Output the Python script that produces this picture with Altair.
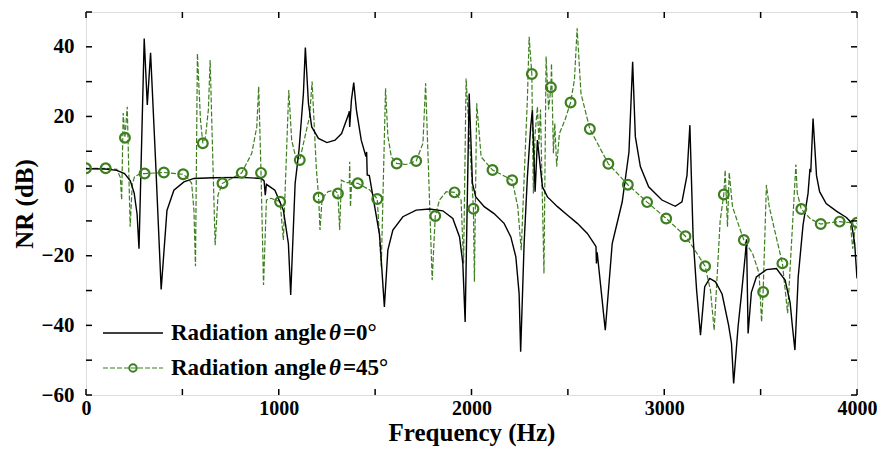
import altair as alt
import pandas as pd

# ---- data ----
black_f = [0, 100, 160, 200, 230, 250, 265, 275, 302, 318, 335, 362, 390, 420, 456, 508, 560, 660, 800,
           910, 924, 930, 936, 980, 1024, 1050, 1062, 1085, 1105, 1128, 1138, 1154, 1171, 1206, 1250, 1292,
           1326, 1364, 1366, 1368, 1377, 1389, 1403, 1428, 1452, 1456, 1459, 1470, 1489, 1523, 1548, 1566,
           1592, 1644, 1713, 1782, 1851, 1903, 1938, 1955, 1967, 1988, 2005, 2022, 2066, 2117, 2169, 2204,
           2230, 2247, 2255, 2273, 2290, 2307, 2316, 2330, 2342, 2368, 2394, 2446, 2497, 2549, 2601, 2636,
           2646, 2648, 2652, 2694, 2730, 2782, 2817, 2836, 2850, 2876, 2919, 2988, 3057, 3092, 3118, 3133,
           3150, 3168, 3188, 3210, 3236, 3266, 3300, 3334, 3349, 3360, 3383, 3401, 3420, 3427, 3435, 3452,
           3478, 3530, 3582, 3627, 3653, 3665, 3678, 3695, 3720, 3746, 3756, 3760, 3772, 3790, 3806, 3840,
           3893, 3945, 3971, 3988, 4000]
black_nr = [5.0, 4.9, 4.5, 3.6, 1.5, -2.0, -8.0, -18.0, 42.4, 23.3, 38.3, 6.0, -29.7, -7.0, -1.2, 1.2, 2.2, 2.4, 2.5,
            2.2, 1.5, -2.6, 0.5, -1.2, -6.9, -16.5, -31.3, 0.8, 10.3, 26.6, 39.8, 23.8, 17.0, 13.7, 12.5, 13.2,
            15.1, 20.9, 21.5, 17.0, 24.7, 29.7, 21.8, 13.2, 8.5, 9.8, 3.2, 3.0, -3.1, -14.0, -34.7, -18.4,
            -12.6, -8.8, -6.9, -6.6, -7.1, -9.3, -14.6, -22.2, -39.0, 26.6, 0.8, -3.1, -5.9, -7.9, -10.7, -14.6,
            -20.3, -30.8, -47.6, -16.5, 2.7, 17.0, 21.8, -1.6, 13.2, -0.2, -3.1, -5.9, -8.3, -10.7, -13.6, -16.5,
            -17.4, -22.2, -19.0, -41.4, -16.5, -4.5, 9.8, 35.7, 14.2, 5.6, -0.2, -4.0, -5.8, -4.5, 3.1, 17.5,
            -15.0, -30.0, -42.8, -28.9, -26.5, -27.5, -31.0, -40.0, -45.2, -56.7, -40.4, -30.8, -20.0, -15.3, -42.3, -30.5,
            -26.1, -24.0, -23.7, -27.0, -33.5, -40.4, -47.1, -26.1, -11.2, -2.1, 5.0, 4.0, 19.4, 3.0, -1.6, -5.0,
            -7.2, -9.0, -10.5, -16.5, -26.5]

green_f = [0, 102, 160, 178, 185, 193, 202, 214, 229, 240, 252, 280, 304, 404, 504, 530, 548, 560, 568, 578,
           594, 606, 620, 635, 644, 670, 685, 708, 756, 808, 860, 886, 896, 908, 921, 936, 960, 1007, 1024,
           1052, 1067, 1085, 1109, 1136, 1160, 1173, 1195, 1207, 1214, 1225, 1256, 1290, 1307, 1316, 1325,
           1350, 1366, 1368, 1372, 1378, 1410, 1472, 1511, 1532, 1554, 1566, 1584, 1612, 1660, 1713, 1748,
           1762, 1796, 1812, 1834, 1869, 1912, 1946, 1959, 1972, 2010, 2015, 2027, 2050, 2109, 2160, 2211,
           2240, 2258, 2275, 2290, 2299, 2313, 2321, 2330, 2342, 2350, 2358, 2376, 2387, 2400, 2412, 2415,
           2425, 2432, 2442, 2456, 2485, 2514, 2534, 2548, 2568, 2614, 2710, 2811, 2911, 3010, 3110, 3160,
           3212, 3240, 3259, 3290, 3309, 3316, 3328, 3337, 3354, 3389, 3413, 3458, 3492, 3505, 3513, 3530,
           3545, 3570, 3613, 3640, 3683, 3690, 3711, 3760, 3812, 3860, 3910, 3965, 3978, 3990, 4000]
green_nr = [5.1, 5.1, 4.8, 2.5, -4.0, 21.0, 13.9, 22.8, -11.7, 0.5, 2.7, 3.5, 3.6, 3.9, 3.4, 2.2, 0.8, -6.9, -23.0, 38.1,
            19.0, 12.3, 14.2, 22.0, 36.2, -17.0, -2.5, 0.8, 2.2, 3.8, 9.4, 17.0, 28.6, 3.8, -28.4, -4.0, -3.5, -4.5, -15.5,
            27.6, 13.2, 9.0, 7.5, 14.2, 20.0, 30.0, 5.0, -3.3, -12.6, -3.5, -1.6, -1.2, -2.1, -12.6, 1.7,
            1.0, 1.0, 7.0, -6.0, 1.0, 0.8, -1.1, -3.7, -23.2, 28.1, 14.4, 8.4, 6.5, 6.2, 7.2, 12.3,
            29.5, -27.0, -8.6, -4.0, -1.6, -1.8, -4.0, -22.2, 30.9, -6.5, -27.5, 23.8, 8.4, 4.6, 3.2, 1.7,
            -5.9, -18.4, 5.0, 25.0, 42.9, 32.2, -2.1, 15.0, 22.8, 12.0, 22.0, -25.1, 37.2, 22.0, 28.4, 35.2,
            9.4, 18.0, 5.6, 15.1, 19.0, 24.0, 30.5, 45.3, 26.6, 16.4, 6.4, 0.4, -4.6, -9.3, -14.4, -18.5,
            -23.0, -30.0, -41.4, -10.0, -2.4, 4.6, -11.7, 3.9, -5.9, -11.7, -15.5, -19.3, -25.1, -39.0, -30.4, 0.3,
            -6.0, -12.0, -22.2, -36.5, 6.2, -2.0, -6.6, -9.5, -10.9, -10.5, -10.2, -10.5, -18.0, -12.0, -10.5]

marker_f = [0, 102, 202, 304, 404, 504, 606, 708, 808, 908, 1007, 1109, 1207, 1307, 1410, 1511, 1612, 1713,
            1812, 1912, 2010, 2109, 2211, 2313, 2412, 2514, 2614, 2710, 2811, 2911, 3010, 3110, 3212, 3309,
            3413, 3513, 3613, 3711, 3812, 3910, 4000]
marker_nr = [5.1, 5.1, 13.9, 3.6, 3.9, 3.4, 12.3, 0.8, 3.8, 3.8, -4.5, 7.5, -3.3, -2.1, 0.8, -3.7, 6.5, 7.2,
             -8.6, -1.8, -6.5, 4.6, 1.7, 32.2, 28.4, 24.0, 16.4, 6.4, 0.4, -4.6, -9.3, -14.4, -23.0, -2.4,
             -15.5, -30.4, -22.2, -6.6, -10.9, -10.2, -10.5]

x_ticks = [0, 500, 1000, 1500, 2000, 2500, 3000, 3500, 4000]
x_labels = [0, 1000, 2000, 3000, 4000]
y_ticks = [-60, -50, -40, -30, -20, -10, 0, 10, 20, 30, 40, 50]
y_labels = [-60, -40, -20, 0, 20, 40]

legend_text = ["Radiation angle", "θ", "=0°", "=45°"]

GREEN = "#3d7f1f"
FONT = "Liberation Serif"
W, H = 771, 383

black_df = pd.DataFrame({"f": black_f, "nr": black_nr})
green_df = pd.DataFrame({"f": green_f, "nr": green_nr})
marker_df = pd.DataFrame({"f": marker_f, "nr": marker_nr})
xt_df = pd.DataFrame({"f": x_ticks})
yt_df = pd.DataFrame({"nr": y_ticks})

xscale = alt.Scale(domain=[0, 4000], nice=False, zero=False)
yscale = alt.Scale(domain=[-60, 50], nice=False, zero=False)

xaxis = alt.Axis(values=x_labels, format="d", title="Frequency (Hz)", ticks=False, domain=False, grid=False,
                 labelFont=FONT, labelFontSize=20, labelFontWeight="bold", labelPadding=3,
                 titleFont=FONT, titleFontSize=25, titleFontWeight="bold", titlePadding=2,
                 labelColor="black", titleColor="black", labelFlush=False)
yaxis = alt.Axis(values=y_labels, format="d", title="NR (dB)", ticks=False, domain=False, grid=False,
                 labelFont=FONT, labelFontSize=21, labelFontWeight="bold", labelPadding=12,
                 titleFont=FONT, titleFontSize=25, titleFontWeight="bold", titlePadding=4,
                 labelColor="black", titleColor="black", labelFlush=False)

base_x = alt.X("f:Q", scale=xscale, axis=xaxis)
base_y = alt.Y("nr:Q", scale=yscale, axis=yaxis)

green_line = alt.Chart(green_df).mark_line(color=GREEN, strokeWidth=1.2, strokeDash=[5, 2], clip=True).encode(
    x=base_x, y=base_y, order="f:Q")
black_line = alt.Chart(black_df).mark_line(color="black", strokeWidth=1.4, clip=True).encode(
    x=alt.X("f:Q", scale=xscale), y=alt.Y("nr:Q", scale=yscale), order="f:Q")
markers = alt.Chart(marker_df).mark_point(shape="circle", filled=False, color=GREEN, strokeWidth=2.2,
                                          size=95, clip=True, opacity=1).encode(
    x=alt.X("f:Q", scale=xscale), y=alt.Y("nr:Q", scale=yscale))

tick_len = 6
xt_bottom = alt.Chart(xt_df).mark_rule(color="black", strokeWidth=1.5).encode(
    x=alt.X("f:Q", scale=xscale), y=alt.value(H), y2=alt.value(H - tick_len))
xt_top = alt.Chart(xt_df).mark_rule(color="black", strokeWidth=1.5).encode(
    x=alt.X("f:Q", scale=xscale), y=alt.value(0), y2=alt.value(tick_len))
yt_left = alt.Chart(yt_df).mark_rule(color="black", strokeWidth=1.5).encode(
    y=alt.Y("nr:Q", scale=yscale), x=alt.value(0), x2=alt.value(tick_len))
yt_right = alt.Chart(yt_df).mark_rule(color="black", strokeWidth=1.5).encode(
    y=alt.Y("nr:Q", scale=yscale), x=alt.value(W), x2=alt.value(W - tick_len))

# legend (inside plot, lower left)
ly1, ly2 = 321, 356
leg_black = alt.Chart().mark_rule(color="black", strokeWidth=1.5).encode(
    x=alt.value(17), x2=alt.value(77), y=alt.value(ly1))
leg_green = alt.Chart().mark_rule(color=GREEN, strokeWidth=1.2, strokeDash=[5, 2]).encode(
    x=alt.value(17), x2=alt.value(77), y=alt.value(ly2))
leg_pt = alt.Chart().mark_point(shape="circle", filled=False, color=GREEN, strokeWidth=2, size=55,
                                opacity=1).encode(x=alt.value(47), y=alt.value(ly2))

def txt(s, x, y, italic=False):
    return alt.Chart().mark_text(text=s, align="left", baseline="middle", font=FONT, fontSize=23,
                                 fontWeight="bold", fontStyle="italic" if italic else "normal",
                                 color="black").encode(x=alt.value(x), y=alt.value(y))

leg_texts = [
    txt(legend_text[0], 85, ly1), txt(legend_text[1], 243, ly1, True), txt(legend_text[2], 257, ly1),
    txt(legend_text[0], 85, ly2), txt(legend_text[1], 243, ly2, True), txt(legend_text[3], 257, ly2),
]

chart = alt.layer(
    green_line, black_line, markers, xt_bottom, xt_top, yt_left, yt_right,
    leg_black, leg_green, leg_pt, *leg_texts
).properties(
    width=W, height=H,
    autosize=alt.AutoSizeParams(type="none"),
    padding={"left": 78, "top": 4, "right": 20, "bottom": 52},
).configure_view(
    stroke="black", strokeWidth=2
).configure(background="white")

chart.save("out.html", embed_options={"renderer": "svg", "actions": False})
